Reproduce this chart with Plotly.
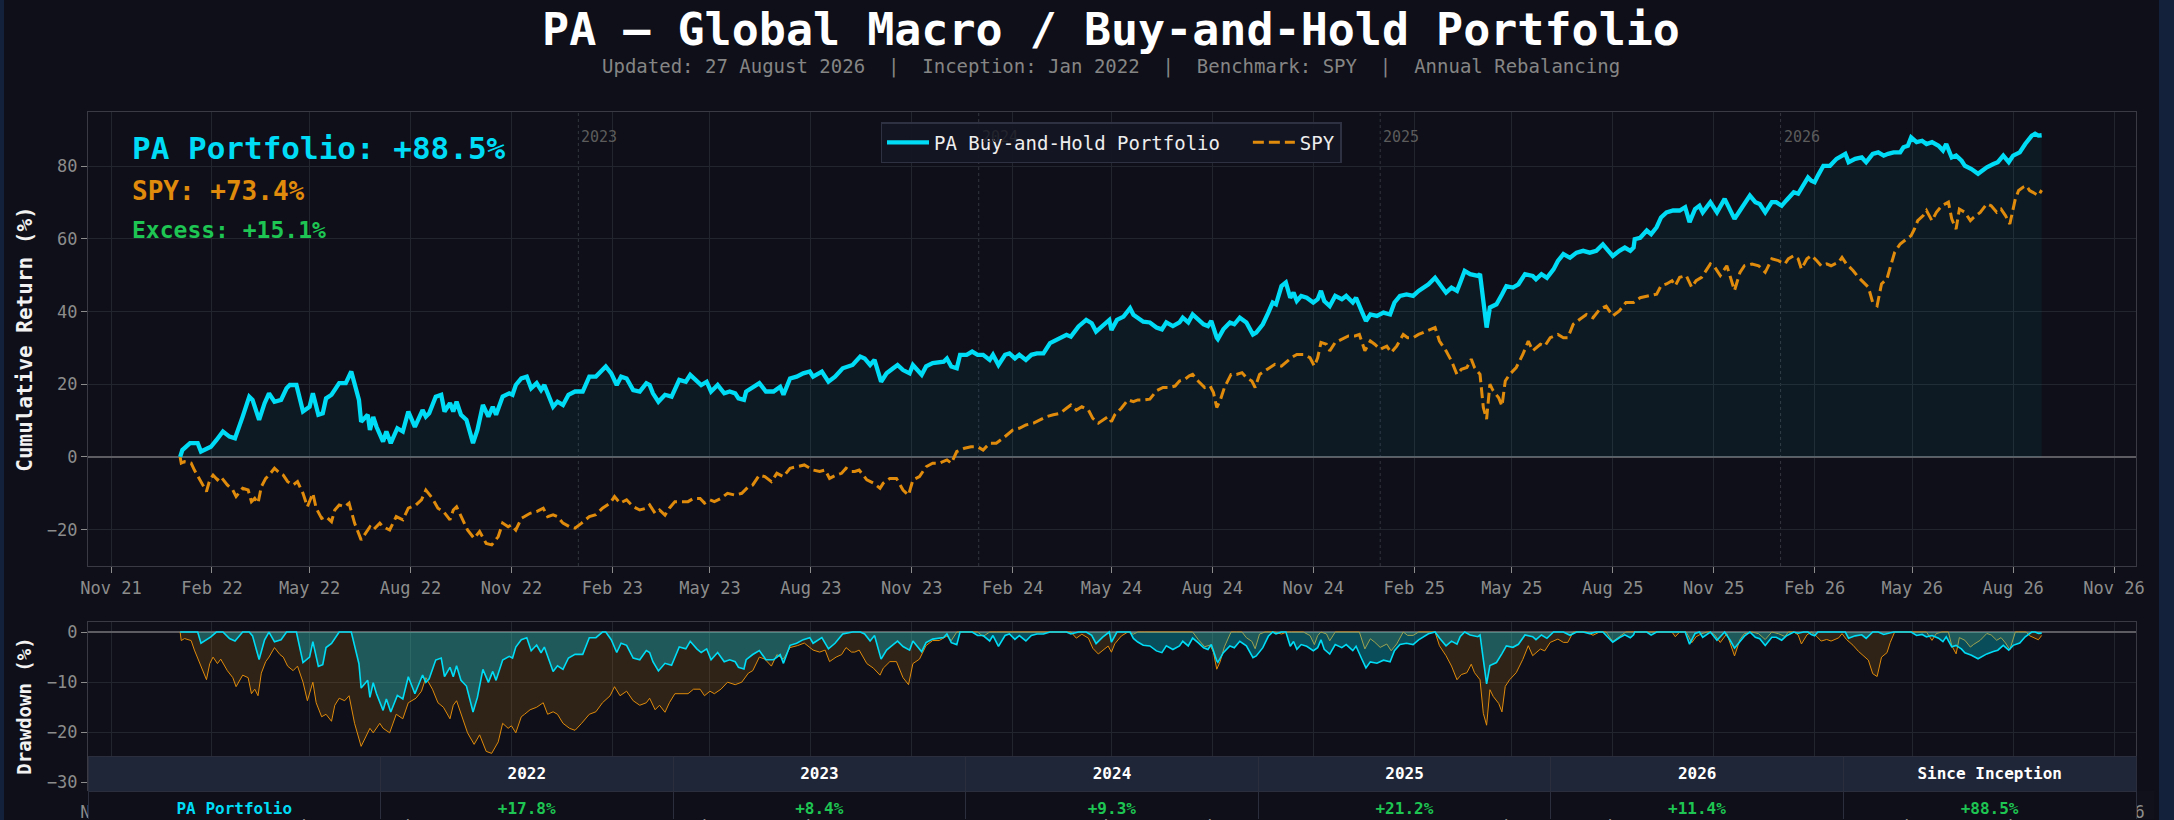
import numpy as np
import pandas as pd
import plotly.graph_objects as go

# Data: cumulative return (%), x = days since 2022-01-01
pa_day = [2, 4, 11, 18, 21, 30, 35, 41, 47, 52, 59, 65, 68, 74, 79, 83, 88, 94, 99, 102,
          108, 114, 120, 123, 128, 132, 135, 140, 147, 153, 158, 165, 167, 173, 175, 178, 181, 187, 190, 194,
          200, 205, 210, 216, 223, 226, 229, 235, 240, 243, 248, 251, 254, 258, 263, 269, 273, 278, 283, 287,
          290, 296, 302, 305, 308, 313, 318, 322, 327, 331, 334, 342, 346, 351, 356, 362, 369, 375, 381, 387,
          390, 395, 400, 404, 409, 415, 421, 427,
          430, 433, 438, 444, 450, 457, 463, 467, 473, 477, 482, 486, 492, 498, 503, 508, 511, 516, 518, 524,
          530, 536, 543, 549, 552, 558, 564, 570, 576, 579, 587, 593, 599, 606, 615, 622, 626, 631, 635, 641,
          646, 652, 656, 661, 667, 670, 678, 682, 688, 698, 701, 705, 710, 713, 719, 724, 729, 734, 740, 743,
          748, 754, 758, 763, 767, 773, 778, 783, 789, 795, 804, 810, 814, 821, 828, 833, 837, 843, 849, 851,
          856, 862, 868, 871, 875, 880,
          886, 892, 897, 901, 907, 913, 916, 921, 925, 930, 935, 939, 942, 947, 948, 953, 959, 963, 968, 974,
          980, 983, 989, 994, 998, 1001, 1006, 1010, 1014, 1017, 1020, 1024, 1029, 1035, 1039, 1042, 1045, 1050, 1055, 1061,
          1065, 1071, 1074, 1079, 1083, 1087, 1093, 1099, 1105, 1109, 1114, 1120, 1126, 1131, 1135, 1140, 1146, 1150, 1156, 1161,
          1166, 1169, 1173, 1178, 1185, 1187, 1190, 1193, 1196, 1202, 1207, 1211, 1217, 1222, 1228, 1235, 1238, 1243, 1248, 1254,
          1258, 1263, 1269, 1275, 1281, 1287, 1293, 1299, 1304, 1308, 1314, 1319, 1324, 1327, 1328, 1333,
          1339, 1343, 1348, 1352, 1357, 1363, 1369, 1374, 1378, 1383, 1387, 1390, 1397, 1403, 1410, 1415, 1419, 1424, 1428, 1433,
          1438, 1442, 1447, 1453, 1457, 1462, 1466, 1473, 1477, 1482, 1486, 1489, 1492, 1495, 1500, 1506, 1512, 1520, 1523, 1529,
          1535, 1539, 1545, 1550, 1555, 1559, 1564, 1570, 1573, 1577, 1580, 1585, 1590, 1594, 1599, 1605, 1609, 1612, 1617, 1621,
          1626, 1629, 1635, 1641, 1649, 1655, 1659, 1664, 1669, 1673, 1679, 1684, 1690, 1693, 1696, 1699]
pa_ret = [0, 1.9, 3.8, 3.8, 1.5, 2.8, 4.6, 7.0, 5.6, 5.1, 11.1, 16.6, 15.7, 10.2, 14.8, 17.5, 15.2, 15.7, 18.9, 19.8,
          19.8, 12.5, 13.8, 17.5, 11.6, 12.0, 16.1, 17.1, 20.3, 20.3, 23.5, 15.7, 9.7, 11.6, 7.4, 11.0, 8.3, 4.2, 7.0, 3.8,
          7.9, 7.0, 12.5, 8.3, 12.9, 11.1, 12.0, 16.6, 17.1, 12.5, 14.8, 12.5, 15.2, 11.6, 10.2, 3.8, 7.4, 14.3, 11.1, 13.8,
          11.6, 16.6, 17.5, 17.1, 19.8, 21.6, 22.1, 18.9, 20.3, 18.4, 19.8, 13.8, 15.2, 14.3, 17.1, 18.0, 18.0, 22.1, 22.1, 23.9,
          24.9, 23.0, 19.8, 22.1, 21.6, 18.4, 18.0, 20.3,
          19.8, 17.5, 15.2, 17.1, 16.6, 21.2, 20.7, 22.6, 20.7, 19.8, 20.7, 18.0, 19.8, 17.5, 18.0, 17.5, 16.1, 15.7, 18.0, 19.3,
          20.3, 18.0, 18.0, 19.3, 17.1, 21.6, 22.1, 23.0, 23.5, 22.1, 23.5, 20.7, 22.1, 24.4, 25.3, 27.6, 27.1, 25.3, 26.7, 20.7,
          23.0, 24.4, 25.3, 23.9, 23.0, 25.3, 22.6, 24.9, 25.8, 26.2, 27.1, 24.9, 24.4, 28.1, 28.1, 29.0, 28.1, 28.1, 26.7, 28.1,
          25.3, 28.1, 28.5, 27.1, 28.1, 26.7, 28.1, 28.5, 28.5, 31.3, 32.6, 33.6, 33.1, 35.9, 37.7, 36.8, 34.5, 36.3, 37.7, 34.9,
          37.7, 38.6, 40.9, 39.1, 38.1, 37.2,
          37.0, 35.6, 35.1, 37.0, 36.0, 37.0, 38.3, 37.0, 39.2, 37.9, 36.5, 36.0, 37.4, 32.8, 32.4, 35.1, 37.0, 36.5, 38.3, 37.0,
          33.7, 34.2, 36.5, 39.7, 42.5, 42.0, 47.0, 48.0, 43.8, 45.2, 42.9, 44.3, 43.8, 42.5, 43.4, 45.7, 42.9, 41.5, 44.3, 43.4,
          44.3, 42.5, 43.8, 40.2, 37.4, 39.2, 38.8, 39.7, 39.2, 42.5, 44.3, 44.7, 44.3, 45.7, 46.6, 47.5, 49.3, 47.5, 45.2, 46.6,
          45.7, 48.0, 51.2, 50.3, 49.8, 50.3, 42.9, 35.6, 41.1, 42.0, 44.7, 47.0, 46.6, 47.5, 50.3, 49.8, 48.9, 50.3, 49.3, 51.6,
          53.9, 55.8, 54.8, 56.2, 56.7, 56.2, 56.7, 58.5, 56.7, 55.3, 56.7, 57.6, 56.7, 57.6, 59.9, 60.3,
          62.3, 61.3, 63.2, 65.9, 67.3, 67.8, 67.8, 68.7, 64.6, 68.2, 69.1, 67.3, 70.1, 67.3, 71.0, 68.2, 65.5, 67.8, 69.6, 71.9,
          70.1, 69.6, 67.3, 70.1, 70.1, 69.1, 70.5, 72.8, 72.4, 75.1, 76.9, 76.0, 75.6, 77.4, 80.1, 80.1, 82.0, 83.4, 81.1, 82.0,
          82.4, 81.1, 83.4, 83.8, 82.9, 83.4, 83.8, 83.8, 85.2, 85.6, 87.9, 86.6, 87.0, 86.1, 86.6, 85.6, 84.3, 86.1, 82.4, 82.9,
          81.5, 80.1, 79.2, 77.9, 79.7, 80.6, 81.1, 82.9, 81.1, 82.9, 83.8, 86.1, 88.4, 88.9, 88.4, 88.5]

spy_day = [2, 3, 6, 12, 15, 20, 26, 29, 32, 36, 39, 45, 50, 53, 59, 64, 67, 70, 73, 76,
           80, 83, 88, 93, 96, 100, 105, 109, 114, 118, 123, 126, 131, 135, 140, 143, 147, 152, 156, 161,
           167, 175, 178, 184, 187, 193, 199, 205, 210, 217, 222, 226, 232, 237, 242, 248, 251, 254, 260, 264,
           270, 275, 281, 286, 292, 296, 301, 304, 308, 313, 316, 321, 327, 333, 337, 342, 346, 351, 357, 362,
           368, 375, 381, 387, 394, 398, 403, 409, 415, 421, 427,
           430, 435, 439, 444, 448, 453, 459, 465, 470, 476, 480, 485, 489, 495, 501, 508, 514, 520, 524, 530,
           535, 541, 546, 552, 558, 565, 571, 579, 585, 590, 594, 600, 605, 609, 614, 617, 621, 628, 634, 640,
           643, 649, 655, 661, 666, 670, 676, 682, 688, 694, 701, 705, 710, 717, 723, 729, 734, 740, 746, 752,
           758, 761, 767, 773, 780, 786, 792, 798, 804, 810, 814, 819, 824, 830, 834, 839, 843, 848, 851, 854,
           860, 866, 871, 875, 881,
           886, 892, 898, 904, 909, 913, 918, 922, 925, 930, 933, 936, 941, 944, 947, 950, 954, 957, 960, 965,
           970, 974, 979, 982, 986, 991, 995, 1000, 1006, 1011, 1015, 1020, 1026, 1032, 1036, 1039, 1042, 1047, 1050, 1055,
           1061, 1067, 1073, 1077, 1082, 1087, 1091, 1096, 1102, 1106, 1111, 1117, 1121, 1126, 1131, 1135, 1141, 1146, 1150, 1156,
           1161, 1166, 1170, 1175, 1179, 1182, 1187, 1190, 1193, 1196, 1199, 1204, 1207, 1210, 1214, 1220, 1226, 1231, 1235, 1242,
           1246, 1251, 1258, 1263, 1267, 1272, 1278, 1284, 1290, 1296, 1302, 1308, 1314, 1320, 1327, 1333,
           1342, 1348, 1352, 1357, 1362, 1365, 1369, 1375, 1380, 1384, 1389, 1394, 1397, 1401, 1406, 1412, 1416, 1419, 1424, 1428,
           1435, 1441, 1447, 1453, 1459, 1465, 1468, 1473, 1477, 1480, 1485, 1489, 1494, 1498, 1503, 1507, 1514, 1517, 1521, 1527,
           1532, 1536, 1541, 1545, 1549, 1553, 1558, 1561, 1565, 1570, 1576, 1580, 1583, 1586, 1591, 1594, 1599, 1603, 1608, 1614,
           1617, 1621, 1624, 1629, 1634, 1637, 1643, 1649, 1653, 1658, 1662, 1666, 1670, 1675, 1678, 1682, 1685, 1688, 1691, 1696,
           1699]
spy_ret = [0, -1.7, -1.3, -1.7, -3.6, -6.3, -9.5, -6.3, -5.0, -6.3, -5.4, -7.7, -9.1, -10.9, -8.6, -9.1, -12.3, -11.4, -12.7, -8.2,
           -5.9, -5.0, -3.1, -4.5, -5.0, -6.8, -7.7, -6.8, -10.0, -13.7, -10.0, -14.1, -16.9, -16.4, -17.8, -14.6, -13.2, -13.7, -12.7, -18.2,
           -22.8, -19.2, -20.1, -18.2, -19.2, -20.1, -16.4, -17.3, -14.1, -13.2, -11.8, -9.1, -11.4, -14.1, -15.0, -17.3, -14.6, -13.7, -17.8, -20.1,
           -22.4, -20.5, -23.8, -24.2, -21.9, -18.2, -19.2, -18.7, -20.1, -16.9, -16.4, -15.5, -15.0, -14.1, -16.4, -15.9, -16.4, -18.2, -19.2, -19.6,
           -18.2, -16.4, -15.9, -14.1, -12.7, -10.9, -12.7, -11.8, -13.7, -14.6, -14.1,
           -13.2, -15.5, -14.6, -16.0, -14.1, -12.3, -12.3, -12.3, -11.4, -11.4, -12.7, -11.8, -12.3, -11.4, -10.0, -10.5, -10.0, -8.2, -7.7, -5.0,
           -5.4, -6.8, -4.5, -5.4, -3.1, -2.7, -2.2, -3.6, -4.0, -3.6, -5.9, -5.0, -4.5, -3.1, -4.0, -4.0, -3.6, -6.3, -7.2, -8.6,
           -7.2, -5.9, -5.9, -9.1, -10.5, -6.3, -5.4, -2.7, -1.7, -1.7, -0.8, -1.7, 1.5, 2.4, 2.8, 2.8, 1.9, 3.8, 3.8, 5.1,
           6.5, 7.4, 7.9, 8.8, 9.3, 10.2, 11.1, 11.6, 12.0, 13.4, 14.3, 12.9, 13.8, 12.9, 10.6, 9.3, 10.2, 11.1, 9.7, 11.6,
           13.4, 15.7, 15.2, 15.7, 15.7,
           15.9, 18.2, 19.1, 19.1, 19.5, 20.9, 21.4, 22.3, 22.7, 20.9, 20.0, 19.1, 19.5, 17.7, 13.6, 15.4, 19.1, 20.9, 22.7, 22.7,
           23.2, 21.8, 20.9, 19.1, 22.7, 23.7, 24.6, 25.5, 25.0, 26.4, 27.3, 28.2, 28.2, 27.3, 25.0, 27.3, 31.5, 31.0, 29.2, 31.5,
           32.4, 33.3, 33.3, 33.7, 29.2, 31.9, 31.0, 29.6, 30.5, 28.7, 30.5, 33.7, 32.8, 32.8, 33.7, 34.2, 35.1, 35.6, 31.9, 29.2,
           26.4, 22.7, 24.1, 24.6, 26.9, 24.6, 22.7, 13.6, 10.4, 20.0, 18.2, 16.3, 14.0, 20.9, 22.7, 24.6, 28.2, 31.9, 29.2, 31.0,
           30.5, 32.8, 33.7, 32.8, 32.8, 36.5, 37.9, 39.2, 38.3, 40.6, 41.5, 38.8, 40.2, 42.5, 42.5, 43.8,
           44.4, 44.8, 47.1, 47.6, 48.5, 47.1, 49.4, 49.9, 46.7, 48.5, 49.4, 51.7, 53.1, 52.2, 49.9, 52.6, 49.0, 45.8, 50.8, 52.6,
           53.1, 52.6, 50.8, 54.5, 54.0, 53.1, 54.5, 55.4, 54.5, 51.7, 54.5, 55.4, 54.0, 52.6, 53.1, 52.6, 53.6, 54.9, 53.1, 51.3,
           49.4, 48.1, 46.7, 42.5, 41.6, 47.6, 49.0, 52.2, 56.3, 58.6, 60.0, 60.9, 62.7, 65.0, 66.4, 67.8, 65.0, 67.3, 69.1, 70.1,
           65.5, 62.7, 68.2, 67.3, 65.0, 65.9, 67.3, 69.6, 69.1, 67.3, 68.2, 66.4, 64.1, 71.0, 73.3, 74.2, 74.6, 73.3, 72.8, 71.9,
           73.4]

assert len(pa_day) == len(pa_ret), (len(pa_day), len(pa_ret))
assert len(spy_day) == len(spy_ret), (len(spy_day), len(spy_ret))

rebalance_dates = ["2023-01-01", "2024-01-01", "2025-01-01", "2026-01-01"]
rebalance_labels = ["2023", "2024", "2025", "2026"]

summary_labels = ["PA Portfolio", "SPY", "Excess"]
summary_values = [88.5, 73.4, 15.1]

table_cols = ["", "2022", "2023", "2024", "2025", "2026", "Since Inception"]
pa_row = ["PA Portfolio", "+17.8%", "+8.4%", "+9.3%", "+21.2%", "+11.4%", "+88.5%"]

# Colours / fonts
BG = "#0e0f18"
CYAN = "#00dcf5"
ORANGE = "#e08b0b"
GREEN = "#1ec552"
GRID = "#22242e"
SPINE = "#393a44"
TICK = "#8c8c8c"
FONT = "DejaVu Sans Mono"
W, H = 2174, 820

base = pd.Timestamp("2022-01-01")
pa_x = base + pd.to_timedelta(pa_day, unit="D")
spy_x = base + pd.to_timedelta(spy_day, unit="D")


def drawdown(ret):
    w = 1 + np.asarray(ret) / 100.0
    return (w / np.maximum.accumulate(w) - 1) * 100.0


pa_dd = drawdown(pa_ret)
spy_dd = drawdown(spy_ret)

fig = go.Figure()

# main panel
fig.add_trace(go.Scatter(x=pa_x, y=pa_ret, fill="tozeroy", fillcolor="rgba(0,220,245,0.055)",
                         line=dict(width=0), showlegend=False, hoverinfo="skip"))
fig.add_trace(go.Scatter(x=spy_x, y=spy_ret, name="SPY", mode="lines",
                         line=dict(color=ORANGE, width=3, dash="11px,5px")))
fig.add_trace(go.Scatter(x=pa_x, y=pa_ret, name="PA Buy-and-Hold Portfolio\u00a0\u00a0", mode="lines",
                         line=dict(color=CYAN, width=4.3)))

# drawdown panel
fig.add_trace(go.Scatter(x=spy_x, y=spy_dd, xaxis="x2", yaxis="y2", fill="tozeroy",
                         fillcolor="rgba(224,139,11,0.16)", mode="lines",
                         line=dict(color=ORANGE, width=1), showlegend=False))
fig.add_trace(go.Scatter(x=pa_x, y=pa_dd, xaxis="x2", yaxis="y2", fill="tozeroy",
                         fillcolor="rgba(0,220,245,0.30)", mode="lines",
                         line=dict(color=CYAN, width=1.6), showlegend=False))

# performance table
cell_colors = [CYAN] + [GREEN] * (len(pa_row) - 1)
fig.add_trace(go.Table(
    domain=dict(x=[88 / W, 2136 / W], y=[0, 1 - 756 / H]),
    header=dict(values=["<b>%s</b>" % c for c in table_cols], fill_color="#1f2638",
                line_color="#2b2f3d", align="center", height=32,
                font=dict(family=FONT, size=16, color="#ffffff")),
    cells=dict(values=[["<b>%s</b>" % v] for v in pa_row], fill_color=BG,
               line_color="#2b2f3d", align="center", height=32,
               font=dict(family=FONT, size=16, color=cell_colors)),
))

xdom = [88 / W, 2136 / W]
xcommon = dict(type="date", range=["2021-10-11", "2026-11-21"], tick0="2021-11-01", dtick="M3",
               tickformat="%b %y", ticks="outside", ticklen=6, tickcolor=TICK,
               tickfont=dict(family=FONT, size=17, color=TICK), showgrid=True, gridcolor=GRID,
               gridwidth=1, showline=True, mirror=True, linecolor=SPINE, linewidth=1.3, zeroline=False,
               automargin=False)
ycommon = dict(ticks="outside", ticklen=6, tickcolor=TICK, tickfont=dict(family=FONT, size=17, color=TICK),
               showgrid=True, gridcolor=GRID, showline=True, mirror=True, linecolor=SPINE, linewidth=1.3,
               zeroline=True, zerolinecolor="#5c5c62", zerolinewidth=1.6, automargin=False)

fig.update_layout(
    width=W, height=H,
    margin=dict(l=0, r=0, t=0, b=0, autoexpand=False),
    paper_bgcolor=BG, plot_bgcolor=BG,
    font=dict(family=FONT, color="#e8e8e8"),
    title=dict(text="<b>PA — Global Macro / Buy-and-Hold Portfolio</b>", x=1111 / W, xanchor="center",
               y=1 - 29 / H, yanchor="middle", font=dict(family=FONT, size=45, color="#ffffff")),
    xaxis=dict(domain=xdom, anchor="y", **xcommon),
    yaxis=dict(domain=[1 - 566 / H, 1 - 112 / H], range=[-30.0, 94.9], dtick=20, anchor="x",
               title=dict(text="<b>Cumulative Return (%)</b>", standoff=8,
                          font=dict(family=FONT, size=21, color="#f2f2f2")), **ycommon),
    xaxis2=dict(domain=xdom, anchor="y2", matches="x", **xcommon),
    yaxis2=dict(domain=[1 - 790 / H, 1 - 622 / H], range=[-31.5, 2], dtick=10, tick0=0, anchor="x2",
                title=dict(text="<b>Drawdown (%)</b>", standoff=10,
                           font=dict(family=FONT, size=19, color="#f2f2f2")), **ycommon),
    legend=dict(orientation="h", x=1111 / W, xanchor="center", y=1 - 122 / H, yanchor="top",
                bgcolor="rgba(20,22,36,0.93)", bordercolor="#2e3142", borderwidth=1.5, itemwidth=42,
                font=dict(family=FONT, size=19, color="#eeeeee"), traceorder="reversed"),
    showlegend=True,
)

# side strips of the page
fig.add_shape(type="rect", xref="paper", yref="paper", x0=2159 / W, x1=1, y0=0, y1=1,
              fillcolor="#13213a", line_width=0, layer="below")
fig.add_shape(type="rect", xref="paper", yref="paper", x0=0, x1=4 / W, y0=0, y1=1,
              fillcolor="#13213a", line_width=0, layer="below")

# rebalancing markers
for d, lab in zip(rebalance_dates, rebalance_labels):
    fig.add_shape(type="line", xref="x", yref="y domain", x0=d, x1=d, y0=0, y1=1,
                  line=dict(color="#33353f", width=1, dash="dot"), layer="below")
    fig.add_annotation(x=d, xref="x", y=1 - 137 / H, yref="paper", text=lab, showarrow=False,
                       xanchor="left", yanchor="middle", xshift=1,
                       font=dict(family=FONT, size=15, color="#23252e" if lab == "2024" else "#5c5c5c"))

# subtitle
fig.add_annotation(x=1111 / W, y=1 - 67 / H, xref="paper", yref="paper", showarrow=False,
                   text="Updated: 27 August 2026  |  Inception: Jan 2022  |  Benchmark: SPY  |  Annual Rebalancing",
                   font=dict(family=FONT, size=19, color="#858585"), xanchor="center", yanchor="middle")

# summary text block
excess = summary_values[0] - summary_values[1]
summary = [("%s: %+.1f%%" % (summary_labels[0], summary_values[0]), CYAN, 31, 148),
           ("%s: %+.1f%%" % (summary_labels[1], summary_values[1]), ORANGE, 26, 191),
           ("%s: %+.1f%%" % (summary_labels[2], excess), GREEN, 23, 230)]
for txt, col, size, ypx in summary:
    fig.add_annotation(x=130 / W, y=1 - ypx / H, xref="paper", yref="paper", showarrow=False,
                       text="<b>%s</b>" % txt, xanchor="left", yanchor="middle",
                       font=dict(family=FONT, size=size, color=col))

fig.write_html("out.html", config={"displayModeBar": False},
               post_script="document.body.style.margin='0';"
                           "document.body.style.background='#13213a';")
